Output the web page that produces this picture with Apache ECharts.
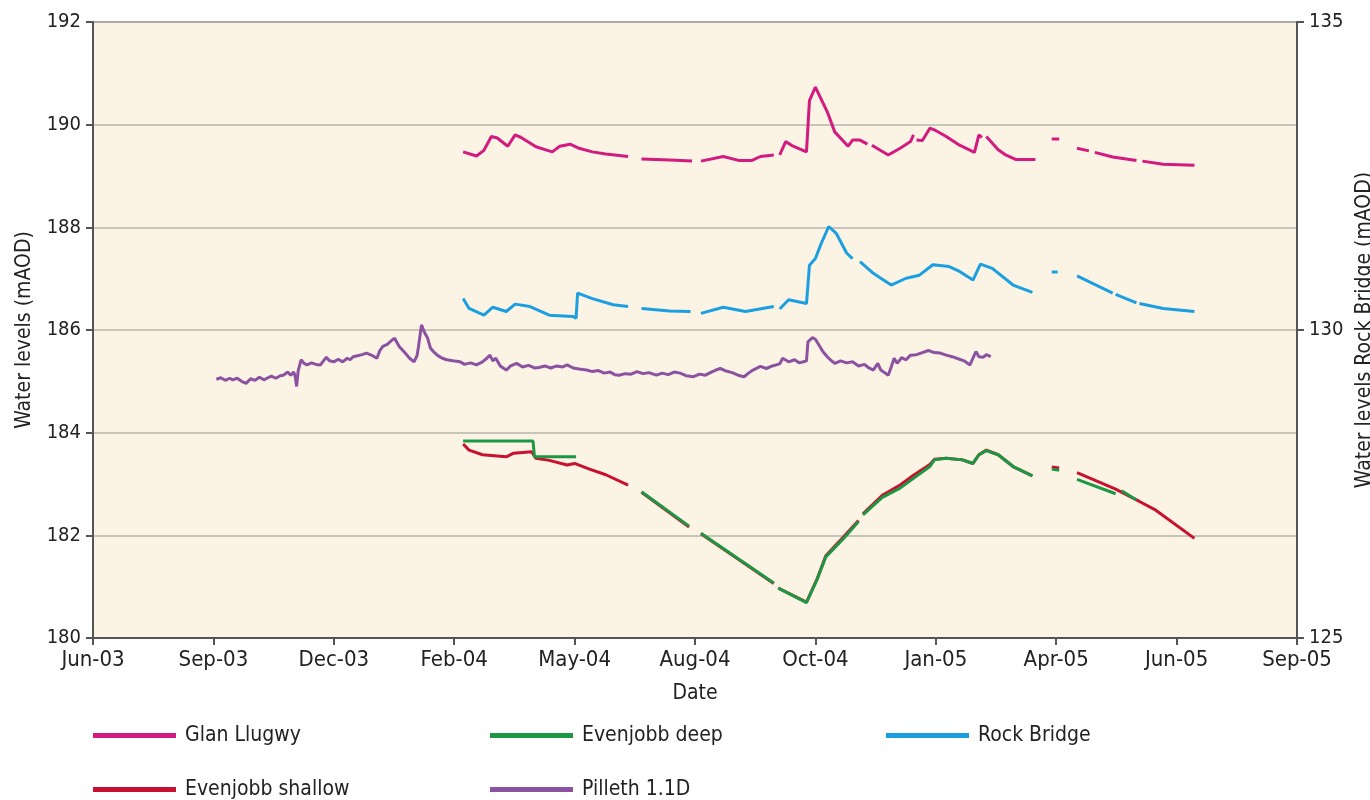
<!DOCTYPE html>
<html>
<head>
<meta charset="utf-8">
<script src="https://cdn.jsdelivr.net/npm/echarts@6/dist/echarts.min.js"></script>
<style>
html,body{margin:0;padding:0;background:#fff;}
#chart{width:1370px;height:800px;}
</style>
</head>
<body>
<div id="chart"></div>
<script>
// ---------- DATA (dates, values; null = gap in record) ----------
const xTickLabels = ['Jun-03','Sep-03','Dec-03','Feb-04','May-04','Aug-04','Oct-04','Jan-05','Apr-05','Jun-05','Sep-05'];
const leftTicks = [180, 182, 184, 186, 188, 190, 192];
const rightTicks = [125, 130, 135];

const glanLlugwy = [
  ['2004-03-03',189.47],['2004-03-12',189.39],['2004-03-17',189.50],['2004-03-22',189.77],['2004-03-26',189.74],
  ['2004-04-02',189.58],['2004-04-07',189.80],['2004-04-11',189.75],['2004-04-21',189.57],['2004-05-02',189.47],
  ['2004-05-07',189.58],['2004-05-14',189.62],['2004-05-20',189.54],['2004-05-29',189.47],['2004-06-07',189.43],
  ['2004-06-22',189.38], null,
  ['2004-07-01',189.33],['2004-07-20',189.31],['2004-08-04',189.29], null,
  ['2004-08-10',189.29],['2004-08-25',189.38],['2004-09-05',189.30],['2004-09-13',189.30],['2004-09-19',189.38],
  ['2004-09-28',189.41], null,
  ['2004-10-02',189.41],['2004-10-06',189.67],['2004-10-11',189.58],['2004-10-20',189.47],['2004-10-22',190.47],
  ['2004-10-26',190.73],['2004-10-28',190.61],['2004-11-03',190.25],['2004-11-08',189.86],['2004-11-17',189.58],
  ['2004-11-20',189.70],['2004-11-25',189.70],['2004-11-30',189.62], null,
  ['2004-12-03',189.60],['2004-12-14',189.41],['2004-12-22',189.54],['2004-12-29',189.67],['2004-12-31',189.80], null,
  ['2005-01-02',189.70],['2005-01-06',189.69],['2005-01-11',189.93],['2005-01-14',189.90],['2005-01-22',189.77],
  ['2005-01-31',189.60],['2005-02-10',189.46],['2005-02-13',189.80],['2005-02-15',189.75], null,
  ['2005-02-18',189.77],['2005-02-26',189.51],['2005-03-03',189.41],['2005-03-10',189.32],['2005-03-23',189.32], null,
  ['2005-04-03',189.72],['2005-04-08',189.72], null,
  ['2005-04-20',189.54],['2005-04-28',189.49], null,
  ['2005-05-02',189.46],['2005-05-14',189.37],['2005-05-30',189.30], null,
  ['2005-06-03',189.29],['2005-06-17',189.23],['2005-07-08',189.21]
];

const rockBridge = [
  ['2004-03-03',130.51],['2004-03-07',130.35],['2004-03-17',130.24],['2004-03-23',130.37],['2004-04-01',130.30],
  ['2004-04-07',130.42],['2004-04-17',130.38],['2004-04-30',130.24],['2004-05-16',130.22],['2004-05-18',130.19],
  ['2004-05-19',130.60],['2004-05-29',130.51],['2004-06-12',130.41],['2004-06-22',130.38], null,
  ['2004-07-01',130.35],['2004-07-20',130.31],['2004-08-03',130.30], null,
  ['2004-08-10',130.27],['2004-08-25',130.37],['2004-09-09',130.30],['2004-09-28',130.38], null,
  ['2004-10-02',130.34],['2004-10-08',130.49],['2004-10-20',130.43],['2004-10-22',131.05],['2004-10-26',131.16],
  ['2004-10-30',131.41],['2004-11-04',131.68],['2004-11-09',131.57],['2004-11-16',131.25],['2004-11-20',131.16], null,
  ['2004-11-25',131.11],['2004-12-04',130.92],['2004-12-09',130.84],['2004-12-16',130.73],['2004-12-26',130.84],
  ['2005-01-04',130.89],['2005-01-13',131.06],['2005-01-24',131.03],['2005-01-31',130.95],['2005-02-09',130.81],
  ['2005-02-14',131.07],['2005-02-22',131.00],['2005-03-08',130.73],['2005-03-21',130.61], null,
  ['2005-04-03',130.94],['2005-04-07',130.94], null,
  ['2005-04-20',130.88],['2005-05-14',130.60], null,
  ['2005-05-16',130.58],['2005-05-30',130.44], null,
  ['2005-06-01',130.43],['2005-06-17',130.35],['2005-07-08',130.30]
];

const pilleth = [
  ['2003-09-19',185.04],['2003-09-22',185.07],['2003-09-25',185.02],['2003-09-28',185.06],['2003-09-30',185.03],
  ['2003-10-03',185.06],['2003-10-06',185.00],['2003-10-09',184.96],['2003-10-12',185.05],['2003-10-15',185.02],
  ['2003-10-18',185.08],['2003-10-21',185.03],['2003-10-23',185.06],['2003-10-26',185.10],['2003-10-29',185.06],
  ['2003-11-01',185.11],['2003-11-03',185.12],['2003-11-06',185.18],['2003-11-08',185.12],['2003-11-10',185.18],
  ['2003-11-11',185.10],['2003-11-12',184.90],['2003-11-13',185.20],['2003-11-15',185.42],['2003-11-17',185.35],
  ['2003-11-19',185.32],['2003-11-22',185.36],['2003-11-25',185.33],['2003-11-28',185.32],['2003-12-02',185.47],
  ['2003-12-04',185.40],['2003-12-07',185.38],['2003-12-10',185.43],['2003-12-13',185.38],['2003-12-16',185.45],
  ['2003-12-18',185.42],['2003-12-20',185.48],['2003-12-23',185.50],['2003-12-26',185.52],['2003-12-29',185.55],
  ['2004-01-02',185.50],['2004-01-05',185.45],['2004-01-07',185.60],['2004-01-09',185.68],['2004-01-12',185.72],
  ['2004-01-15',185.80],['2004-01-17',185.84],['2004-01-18',185.78],['2004-01-20',185.68],['2004-01-24',185.55],
  ['2004-01-27',185.45],['2004-01-30',185.38],['2004-02-01',185.50],['2004-02-02',185.68],['2004-02-04',186.10],
  ['2004-02-06',185.95],['2004-02-08',185.85],['2004-02-10',185.65],['2004-02-12',185.58],['2004-02-15',185.50],
  ['2004-02-18',185.45],['2004-02-21',185.42],['2004-02-25',185.40],['2004-03-01',185.38],['2004-03-04',185.33],
  ['2004-03-08',185.36],['2004-03-12',185.32],['2004-03-16',185.38],['2004-03-19',185.45],['2004-03-21',185.51],
  ['2004-03-23',185.40],['2004-03-25',185.45],['2004-03-28',185.30],['2004-04-01',185.22],['2004-04-04',185.30],
  ['2004-04-08',185.35],['2004-04-12',185.28],['2004-04-16',185.31],['2004-04-20',185.26],['2004-04-23',185.27],
  ['2004-04-27',185.30],['2004-05-01',185.26],['2004-05-05',185.30],['2004-05-09',185.28],['2004-05-12',185.32],
  ['2004-05-16',185.26],['2004-05-20',185.24],['2004-05-25',185.22],['2004-05-29',185.19],['2004-06-02',185.21],
  ['2004-06-06',185.16],['2004-06-10',185.18],['2004-06-13',185.13],['2004-06-16',185.12],['2004-06-20',185.15],
  ['2004-06-24',185.14],['2004-06-28',185.19],['2004-07-02',185.15],['2004-07-06',185.17],['2004-07-11',185.12],
  ['2004-07-15',185.16],['2004-07-19',185.13],['2004-07-23',185.18],['2004-07-27',185.16],['2004-07-31',185.11],
  ['2004-08-05',185.09],['2004-08-09',185.14],['2004-08-13',185.12],['2004-08-17',185.18],['2004-08-20',185.22],
  ['2004-08-23',185.25],['2004-08-27',185.20],['2004-08-31',185.17],['2004-09-04',185.12],['2004-09-08',185.09],
  ['2004-09-11',185.16],['2004-09-14',185.22],['2004-09-19',185.29],['2004-09-23',185.25],['2004-09-27',185.30],
  ['2004-10-02',185.34],['2004-10-04',185.45],['2004-10-08',185.38],['2004-10-12',185.42],['2004-10-15',185.36],
  ['2004-10-18',185.38],['2004-10-20',185.40],['2004-10-21',185.77],['2004-10-24',185.85],['2004-10-26',185.82],
  ['2004-10-29',185.68],['2004-10-31',185.58],['2004-11-03',185.48],['2004-11-05',185.42],['2004-11-08',185.35],
  ['2004-11-12',185.40],['2004-11-16',185.36],['2004-11-20',185.38],['2004-11-24',185.30],['2004-11-28',185.33],
  ['2004-12-01',185.26],['2004-12-04',185.22],['2004-12-07',185.35],['2004-12-09',185.22],['2004-12-12',185.16],
  ['2004-12-14',185.12],['2004-12-16',185.28],['2004-12-18',185.45],['2004-12-20',185.35],['2004-12-23',185.46],
  ['2004-12-26',185.42],['2004-12-29',185.51],['2005-01-02',185.52],['2005-01-06',185.56],['2005-01-10',185.60],
  ['2005-01-14',185.56],['2005-01-18',185.55],['2005-01-22',185.51],['2005-01-26',185.48],['2005-01-30',185.44],
  ['2005-02-03',185.40],['2005-02-07',185.32],['2005-02-09',185.45],['2005-02-11',185.58],['2005-02-13',185.48],
  ['2005-02-16',185.47],['2005-02-18',185.52],['2005-02-21',185.48]
];

const evenjobbDeep = [
  ['2004-03-03',183.84],['2004-04-19',183.84],['2004-04-20',183.53],['2004-05-18',183.53], null,
  ['2004-07-01',182.85],['2004-08-02',182.18], null,
  ['2004-08-10',182.04],['2004-09-28',181.07], null,
  ['2004-10-01',180.97],['2004-10-20',180.69],['2004-10-27',181.13],['2004-11-02',181.58],['2004-11-14',181.94],
  ['2004-11-24',182.27], null,
  ['2004-11-27',182.40],['2004-12-10',182.74],['2004-12-22',182.92],['2004-12-31',183.11],['2005-01-11',183.34],
  ['2005-01-14',183.47],['2005-01-22',183.50],['2005-02-02',183.47],['2005-02-09',183.40],['2005-02-13',183.57],
  ['2005-02-18',183.65],['2005-02-26',183.57],['2005-03-08',183.34],['2005-03-21',183.16], null,
  ['2005-04-03',183.29],['2005-04-08',183.27], null,
  ['2005-04-20',183.09],['2005-05-16',182.81], null,
  ['2005-05-20',182.87],['2005-05-30',182.69]
];

const evenjobbShallow = [
  ['2004-03-03',183.78],['2004-03-07',183.66],['2004-03-16',183.57],['2004-04-01',183.53],['2004-04-06',183.60],
  ['2004-04-18',183.63],['2004-04-21',183.50],['2004-04-30',183.46],['2004-05-12',183.37],['2004-05-17',183.40],
  ['2004-05-27',183.29],['2004-06-07',183.18],['2004-06-22',182.98], null,
  ['2004-07-01',182.84],['2004-08-02',182.16], null,
  ['2004-08-10',182.03],['2004-09-28',181.06], null,
  ['2004-10-01',180.97],['2004-10-20',180.70],['2004-10-27',181.14],['2004-11-02',181.60],['2004-11-14',181.97],
  ['2004-11-24',182.29], null,
  ['2004-11-27',182.42],['2004-12-10',182.78],['2004-12-22',182.98],['2004-12-31',183.17],['2005-01-11',183.38],
  ['2005-01-14',183.48],['2005-01-22',183.50],['2005-02-02',183.47],['2005-02-09',183.40],['2005-02-13',183.57],
  ['2005-02-18',183.66],['2005-02-26',183.57],['2005-03-08',183.34],['2005-03-21',183.16], null,
  ['2005-04-03',183.33],['2005-04-08',183.31], null,
  ['2005-04-20',183.22],['2005-05-16',182.90],['2005-06-01',182.66],['2005-06-12',182.49],['2005-07-08',181.94]
];

// ---------- CHART ----------
const FONT = "'Liberation Sans Narrow','DejaVu Sans Condensed',sans-serif";
const DAY0 = Date.UTC(2003, 5, 28) / 86400000;   // first tick (days since epoch)
const STEP = 81;                                   // days between ticks
const toDay = s => { const p = s.split('-').map(Number); return Date.UTC(p[0], p[1] - 1, p[2]) / 86400000; };
const build = arr => arr.map(p => p ? [toDay(p[0]), p[1]] : ['-', '-']);

const COLORS = {
  glan: '#D21A7F', deep: '#1D9743', rock: '#1B9FE1', shallow: '#C8112E', pill: '#8C52A2'
};

const chart = echarts.init(document.getElementById('chart'), null, {renderer: 'canvas'});

function legendAt(name, left, top) {
  return {
    data: [name], left: left, top: top, icon: 'rect', itemWidth: 83, itemHeight: 5, padding: 0,
    textStyle: {fontFamily: FONT, fontSize: 21, color: '#222', padding: [0, 0, 0, 4]},
    selectedMode: false
  };
}

const lineSeries = (name, data, color, yIdx, z) => ({
  name: name, type: 'line', data: build(data), yAxisIndex: yIdx, symbol: 'none', showSymbol: false,
  connectNulls: false, z: z, lineStyle: {color: color, width: 3}, itemStyle: {color: color},
  emphasis: {disabled: true}
});

chart.setOption({
  animation: false,
  backgroundColor: '#ffffff',
  grid: {left: 93, right: 73, top: 22, bottom: 162, show: true, backgroundColor: '#FBF4E4',
         borderColor: '#6a6a6a', borderWidth: 1.5, containLabel: false, outerBoundsMode: 'none'},
  legend: [
    legendAt('Glan Llugwy', 93, 725),
    legendAt('Evenjobb deep', 490, 725),
    legendAt('Rock Bridge', 886, 725),
    legendAt('Evenjobb shallow', 93, 779),
    legendAt('Pilleth 1.1D', 490, 779)
  ],
  xAxis: {
    type: 'value', min: DAY0, max: DAY0 + STEP * (xTickLabels.length - 1), interval: STEP,
    name: 'Date', nameLocation: 'middle', nameGap: 45,
    nameTextStyle: {fontFamily: FONT, fontSize: 21, color: '#222'},
    axisLine: {show: true, lineStyle: {color: '#555', width: 2}},
    axisTick: {show: true, length: 7, lineStyle: {color: '#555', width: 2}},
    splitLine: {show: false},
    axisLabel: {fontFamily: FONT, fontSize: 22, color: '#222', margin: 11,
      formatter: v => xTickLabels[Math.round((v - DAY0) / STEP)] || ''}
  },
  yAxis: [
    {
      type: 'value', position: 'left', min: leftTicks[0], max: leftTicks[leftTicks.length - 1], interval: 2,
      name: 'Water levels (mAOD)', nameLocation: 'middle', nameGap: 58, nameRotate: 90,
      nameTextStyle: {fontFamily: FONT, fontSize: 21, color: '#222'},
      axisLine: {show: true, lineStyle: {color: '#555', width: 2}},
      axisTick: {show: true, length: 7, lineStyle: {color: '#555', width: 2}},
      splitLine: {show: true, lineStyle: {color: '#B6B4AC', width: 1.5}},
      axisLabel: {fontFamily: FONT, fontSize: 20, color: '#222', margin: 12}
    },
    {
      type: 'value', position: 'right', min: rightTicks[0], max: rightTicks[rightTicks.length - 1], interval: 5,
      name: 'Water levels Rock Bridge (mAOD)', nameLocation: 'middle', nameGap: 44, nameRotate: 90,
      nameTextStyle: {fontFamily: FONT, fontSize: 21, color: '#222'},
      axisLine: {show: true, lineStyle: {color: '#555', width: 2}},
      axisTick: {show: true, length: 7, lineStyle: {color: '#555', width: 2}},
      splitLine: {show: false},
      axisLabel: {fontFamily: FONT, fontSize: 20, color: '#222', margin: 12}
    }
  ],
  series: [
    lineSeries('Glan Llugwy', glanLlugwy, COLORS.glan, 0, 5),
    lineSeries('Rock Bridge', rockBridge, COLORS.rock, 1, 5),
    lineSeries('Pilleth 1.1D', pilleth, COLORS.pill, 0, 5),
    lineSeries('Evenjobb shallow', evenjobbShallow, COLORS.shallow, 0, 5),
    lineSeries('Evenjobb deep', evenjobbDeep, COLORS.deep, 0, 6)
  ]
});
</script>
</body>
</html>
